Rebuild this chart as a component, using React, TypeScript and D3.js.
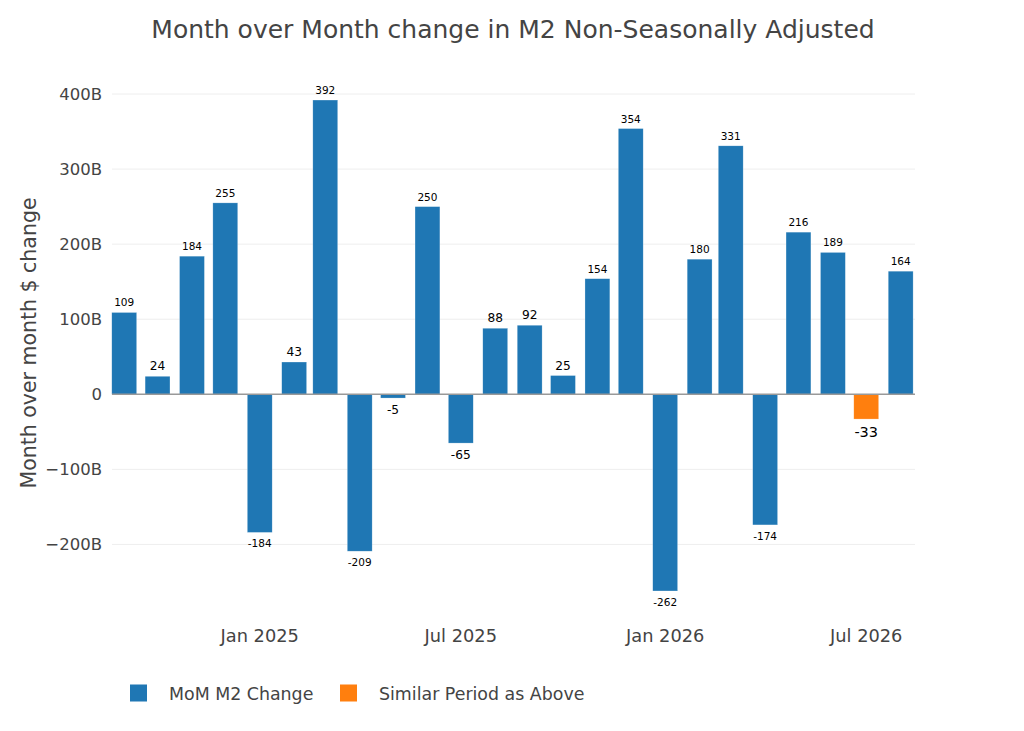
import React from "react";
import * as d3 from "d3";

const months = [
  "2024-09", "2024-10", "2024-11", "2024-12",
  "2025-01", "2025-02", "2025-03", "2025-04", "2025-05", "2025-06",
  "2025-07", "2025-08", "2025-09", "2025-10", "2025-11", "2025-12",
  "2026-01", "2026-02", "2026-03", "2026-04", "2026-05", "2026-06",
  "2026-08",
];
const momChange = [
  109, 24, 184, 255, -184, 43, 392, -209, -5, 250, -65, 88, 92, 25, 154, 354,
  -262, 180, 331, -174, 216, 189, 164,
];
const similarMonths = ["2026-07"];
const similarChange = [-33];
const yTicks = [-200, -100, 0, 100, 200, 300, 400];
const legendLabels = ["MoM M2 Change", "Similar Period as Above"];

const width = 1024;
const height = 731;
const left = 112;
const right = 914;
const top = 70;
const bottom = 612;
const font = "DejaVu Sans";
const blue = "#1f77b4";
const orange = "#ff7f0e";
const textColor = "#444";

const parse = d3.timeParse("%Y-%m");

export default function App() {
  const x = d3
    .scaleTime()
    .domain([new Date(2024, 7, 21), new Date(2026, 7, 13)])
    .range([left, right]);
  const y = d3.scaleLinear().domain([-290, 432]).range([bottom, top]);

  const dayPx = x(new Date(2025, 1, 1)) - x(new Date(2025, 0, 31));
  const barW = 28 * 0.8 * dayPx;

  const fmtTick = (v: number) =>
    v === 0 ? "0" : (v < 0 ? "\u2212" : "") + Math.abs(v) + "B";
  const xTicks = x.ticks(d3.timeMonth.every(6)!);
  const fmtDate = d3.timeFormat("%b %Y");

  const bars = (ms: string[], vs: number[], color: string, big: boolean) =>
    ms.map((m, i) => {
      const cx = x(parse(m)!);
      const v = vs[i];
      const y0 = y(0);
      const y1 = y(v);
      const label = String(v);
      const digits = label.replace("-", "").length;
      const fs = big ? 14.5 : digits >= 3 ? 10.5 : 12.2;
      return (
        <g key={m}>
          <rect
            x={cx - barW / 2}
            y={Math.min(y0, y1)}
            width={barW}
            height={Math.abs(y1 - y0)}
            fill={color}
            stroke="rgba(255,255,255,0.5)"
            strokeWidth={0.5}
          />
          <text
            x={cx}
            y={v >= 0 ? y1 - 6 : y1 + 7 + fs * 0.73}
            textAnchor="middle"
            fontSize={fs}
            fill="#000"
          >
            {label}
          </text>
        </g>
      );
    });

  return (
    <svg width={width} height={height} style={{ display: "block", margin: -8 }} fontFamily={font}>
      <rect width={width} height={height} fill="#fff" />
      <text x={513} y={38} textAnchor="middle" fontSize={25} fill={textColor}>
        Month over Month change in M2 Non-Seasonally Adjusted
      </text>
      {yTicks.map((t) => (
        <g key={t}>
          {t !== 0 && (
            <line x1={left} x2={right + 1} y1={y(t)} y2={y(t)} stroke="#eee" strokeWidth={1} />
          )}
          <text x={102} y={y(t)} dy="0.36em" textAnchor="end" fontSize={16.5} fill={textColor}>
            {fmtTick(t)}
          </text>
        </g>
      ))}
      <text
        transform={`translate(36,${(top + bottom) / 2 + 2}) rotate(-90)`}
        textAnchor="middle"
        fontSize={20.5}
        fill={textColor}
      >
        Month over month $ change
      </text>
      {bars(months, momChange, blue, false)}
      {bars(similarMonths, similarChange, orange, true)}
      <line x1={left} x2={right + 1} y1={y(0)} y2={y(0)} stroke="#999" strokeWidth={1.5} />
      {xTicks.map((t) => (
        <text key={+t} x={x(t)} y={642} textAnchor="middle" fontSize={17.8} fill={textColor}>
          {fmtDate(t)}
        </text>
      ))}
      {[blue, orange].map((c, i) => {
        const lx = i === 0 ? 130 : 340;
        return (
          <g key={c}>
            <rect x={lx} y={684.5} width={17} height={17} fill={c} />
            <text x={lx + 39} y={700} fontSize={17.4} fill={textColor}>
              {legendLabels[i]}
            </text>
          </g>
        );
      })}
    </svg>
  );
}
